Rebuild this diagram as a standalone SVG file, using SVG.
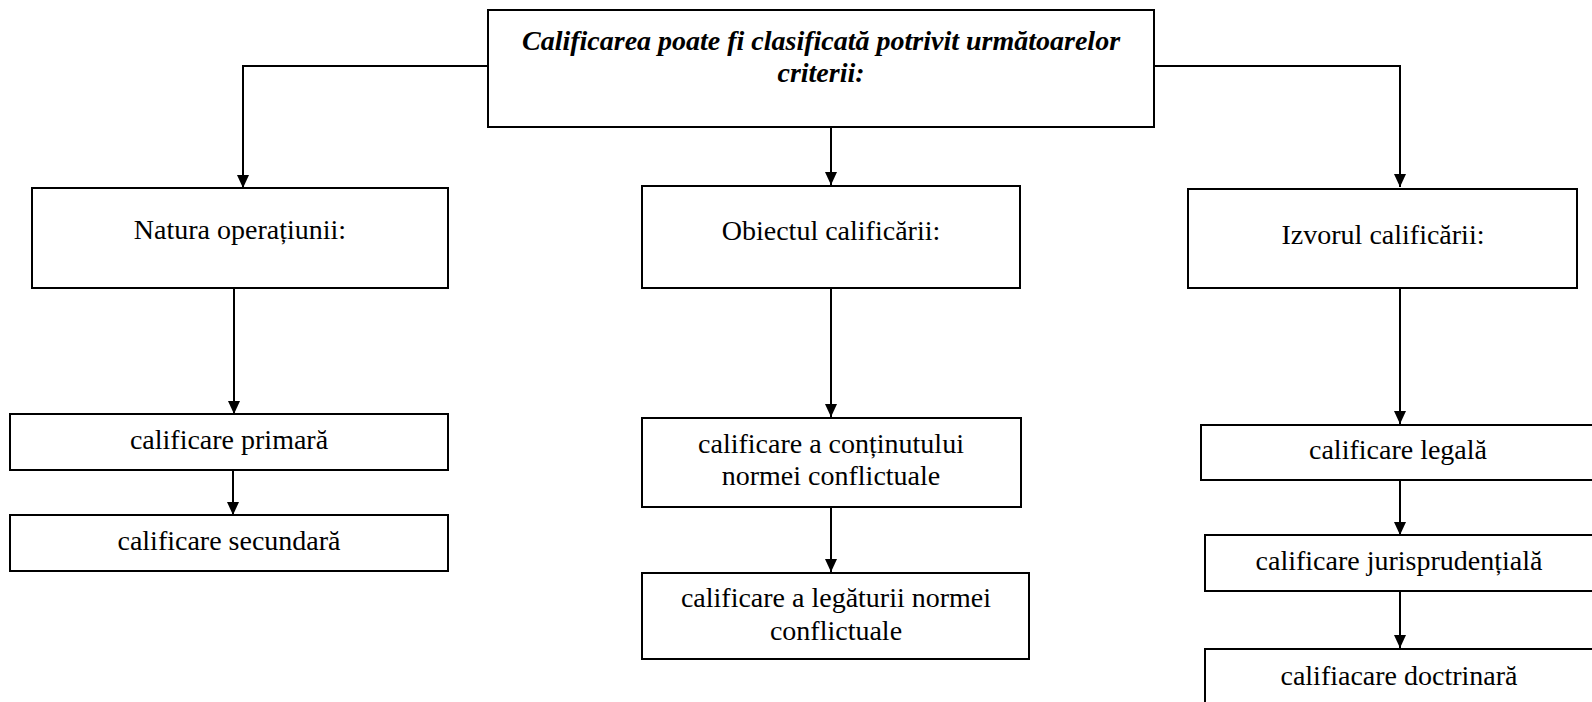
<svg xmlns="http://www.w3.org/2000/svg" width="1592" height="702" viewBox="0 0 1592 702">
<style>
.box{fill:#fff;stroke:#000;stroke-width:2}
.t{font-family:"Liberation Serif","Times New Roman",serif;font-size:28px;fill:#000;text-anchor:middle}
.h{font-weight:bold;font-style:italic}
.c{fill:none;stroke:#000;stroke-width:2}
</style>
<defs>
<marker id="ah" markerUnits="userSpaceOnUse" markerWidth="13" markerHeight="12" refX="13" refY="6" orient="auto">
<path d="M0,0 L13,6 L0,12 z" fill="#000"/>
</marker>
</defs>
<rect width="1592" height="702" fill="#fff"/>
<g id="connectors">
<path class="c" d="M488,66 H243 V188" marker-end="url(#ah)"/>
<path class="c" d="M831,127 V185" marker-end="url(#ah)"/>
<path class="c" d="M1154,66 H1400 V187" marker-end="url(#ah)"/>
<path class="c" d="M234,288 V414" marker-end="url(#ah)"/>
<path class="c" d="M233,470 V515" marker-end="url(#ah)"/>
<path class="c" d="M831,288 V417" marker-end="url(#ah)"/>
<path class="c" d="M831,507 V572" marker-end="url(#ah)"/>
<path class="c" d="M1400,288 V424" marker-end="url(#ah)"/>
<path class="c" d="M1400,480 V535" marker-end="url(#ah)"/>
<path class="c" d="M1400,591 V648" marker-end="url(#ah)"/>
</g>
<g id="top">
<rect class="box" x="488" y="10" width="666" height="117"/>
<text class="t h" x="821" y="50">Calificarea poate fi clasificată potrivit următoarelor</text>
<text class="t h" x="821" y="82">criterii:</text>
</g>
<g id="natura">
<rect class="box" x="32" y="188" width="416" height="100"/>
<text class="t" x="240" y="239">Natura operațiunii:</text>
</g>
<g id="obiectul">
<rect class="box" x="642" y="186" width="378" height="102"/>
<text class="t" x="831" y="240">Obiectul calificării:</text>
</g>
<g id="izvorul">
<rect class="box" x="1188" y="189" width="389" height="99"/>
<text class="t" x="1383" y="244">Izvorul calificării:</text>
</g>
<g id="primara">
<rect class="box" x="10" y="414" width="438" height="56"/>
<text class="t" x="229" y="449">calificare primară</text>
</g>
<g id="secundara">
<rect class="box" x="10" y="515" width="438" height="56"/>
<text class="t" x="229" y="550">calificare secundară</text>
</g>
<g id="continut">
<rect class="box" x="642" y="418" width="379" height="89"/>
<text class="t" x="831" y="453">calificare a conținutului</text>
<text class="t" x="831" y="485">normei conflictuale</text>
</g>
<g id="legatura">
<rect class="box" x="642" y="573" width="387" height="86"/>
<text class="t" x="836" y="607">calificare a legăturii normei</text>
<text class="t" x="836" y="640">conflictuale</text>
</g>
<g id="legala">
<rect class="box" x="1201" y="425" width="420" height="55"/>
<text class="t" x="1398" y="459">calificare legală</text>
</g>
<g id="jurisprudentiala">
<rect class="box" x="1205" y="535" width="420" height="56"/>
<text class="t" x="1399" y="570">calificare jurisprudențială</text>
</g>
<g id="doctrinara">
<rect class="box" x="1205" y="649" width="420" height="80"/>
<text class="t" x="1399" y="685">califiacare doctrinară</text>
</g>
</svg>
